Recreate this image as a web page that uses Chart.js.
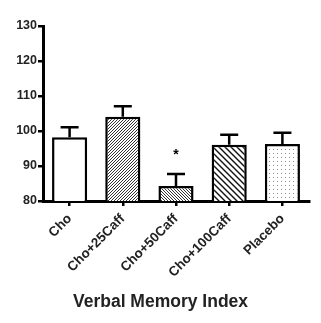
<!DOCTYPE html>
<html>
<head>
<meta charset="utf-8">
<script src="https://cdn.jsdelivr.net/npm/chart.js@4.4.1/dist/chart.umd.min.js"></script>
<style>
  html, body { margin: 0; padding: 0; background: #fff; }
  #wrap { width: 321px; height: 323px; position: relative; }
</style>
</head>
<body>
<div id="wrap"><canvas id="chart"></canvas></div>
<script>
// data
const categories = ['Cho', 'Cho+25Caff', 'Cho+50Caff', 'Cho+100Caff', 'Placebo'];
const means = [98.2, 104.1, 84.3, 96.1, 96.3];
const errors = [2.9, 3.0, 3.4, 2.8, 3.2];
const yTicks = [80, 90, 100, 110, 120, 130];
const starred = [false, false, true, false, false];

const fontFam = '"Liberation Sans", Arial, sans-serif';

// hatch fills
function makePattern(kind) {
    const c = document.createElement('canvas');
    const ctx = c.getContext('2d');
    let s;
    if (kind === 'fwd' || kind === 'back') s = 3;
    else if (kind === 'wide') s = 6;
    else s = 4;
    c.width = s; c.height = s;
    ctx.fillStyle = '#fff';
    ctx.fillRect(0, 0, s, s);
    if (kind === 'dots') {
        ctx.fillStyle = '#8a8a8a';
        ctx.fillRect(1, 1, 1, 1);
        return ctx.createPattern(c, 'repeat');
    }
    ctx.strokeStyle = kind === 'wide' ? '#111' : '#333';
    ctx.lineWidth = kind === 'wide' ? 1.4 : 1;
    ctx.beginPath();
    if (kind === 'fwd') {
        ctx.moveTo(-1, s + 1); ctx.lineTo(s + 1, -1);
        ctx.moveTo(-1, 1); ctx.lineTo(1, -1);
        ctx.moveTo(s - 1, s + 1); ctx.lineTo(s + 1, s - 1);
    } else {
        ctx.moveTo(-1, -1); ctx.lineTo(s + 1, s + 1);
        ctx.moveTo(s - 1, -1); ctx.lineTo(s + 1, 1);
        ctx.moveTo(-1, s - 1); ctx.lineTo(1, s + 1);
    }
    ctx.stroke();
    return ctx.createPattern(c, 'repeat');
}

const fills = ['#fff', makePattern('fwd'), makePattern('back'), makePattern('wide'), makePattern('dots')];

// upper error bars + asterisk
const errorBars = {
    id: 'errorBars',
    beforeDatasetsDraw(chart) {
        const ctx = chart.ctx;
        const meta = chart.getDatasetMeta(0);
        const y = chart.scales.y;
        ctx.save();
        ctx.strokeStyle = '#000';
        ctx.lineWidth = 2.5;
        meta.data.forEach((bar, i) => {
            const top = y.getPixelForValue(means[i] + errors[i]);
            ctx.beginPath();
            ctx.moveTo(bar.x, bar.y);
            ctx.lineTo(bar.x, top);
            ctx.moveTo(bar.x - 9, top);
            ctx.lineTo(bar.x + 9, top);
            ctx.stroke();
            if (starred[i]) {
                ctx.fillStyle = '#000';
                ctx.font = 'bold 14px ' + fontFam;
                ctx.textAlign = 'center';
                ctx.textBaseline = 'middle';
                ctx.fillText('*', bar.x, y.getPixelForValue(means[i] + errors[i] + 5.5));
            }
        });
        ctx.restore();
    }
};

new Chart(document.getElementById('chart'), {
    type: 'bar',
    data: {
        labels: categories,
        datasets: [{
            data: means,
            backgroundColor: fills,
            borderColor: '#000',
            borderWidth: 2.5,
            borderSkipped: 'bottom',
            barPercentage: 0.66,
            categoryPercentage: 1
        }]
    },
    options: {
        responsive: true,
        maintainAspectRatio: false,
        animation: false,
        layout: { padding: { top: 26, right: 12, left: 12, bottom: 6 } },
        plugins: {
            legend: { display: false },
            tooltip: { enabled: false },
            title: {
                display: true,
                position: 'bottom',
                text: 'Verbal Memory Index',
                color: '#222',
                font: { family: fontFam, size: 17.5, weight: 'bold' },
                padding: { top: 6, bottom: 4 }
            }
        },
        scales: {
            x: {
                afterFit: (s) => { s.height = 85; },
                grid: { offset: false, drawOnChartArea: false, drawTicks: true, tickLength: 5, color: '#000', lineWidth: 2.5 },
                border: { display: true, color: '#000', width: 3 },
                ticks: {
                    color: '#222',
                    font: { family: fontFam, size: 13.4, weight: 'bold' },
                    minRotation: 45, maxRotation: 45,
                    padding: 5
                }
            },
            y: {
                min: 80, max: 130,
                afterFit: (s) => { s.width = 31; },
                afterBuildTicks: (s) => { s.ticks = yTicks.map(v => ({ value: v })); },
                grid: { drawOnChartArea: false, drawTicks: true, tickLength: 5, color: '#000', lineWidth: 2.5 },
                border: { display: true, color: '#000', width: 3 },
                ticks: {
                    color: '#222',
                    font: { family: fontFam, size: 12.5, weight: 'bold' },
                    padding: 1
                }
            }
        }
    },
    plugins: [errorBars]
});
</script>
</body>
</html>
